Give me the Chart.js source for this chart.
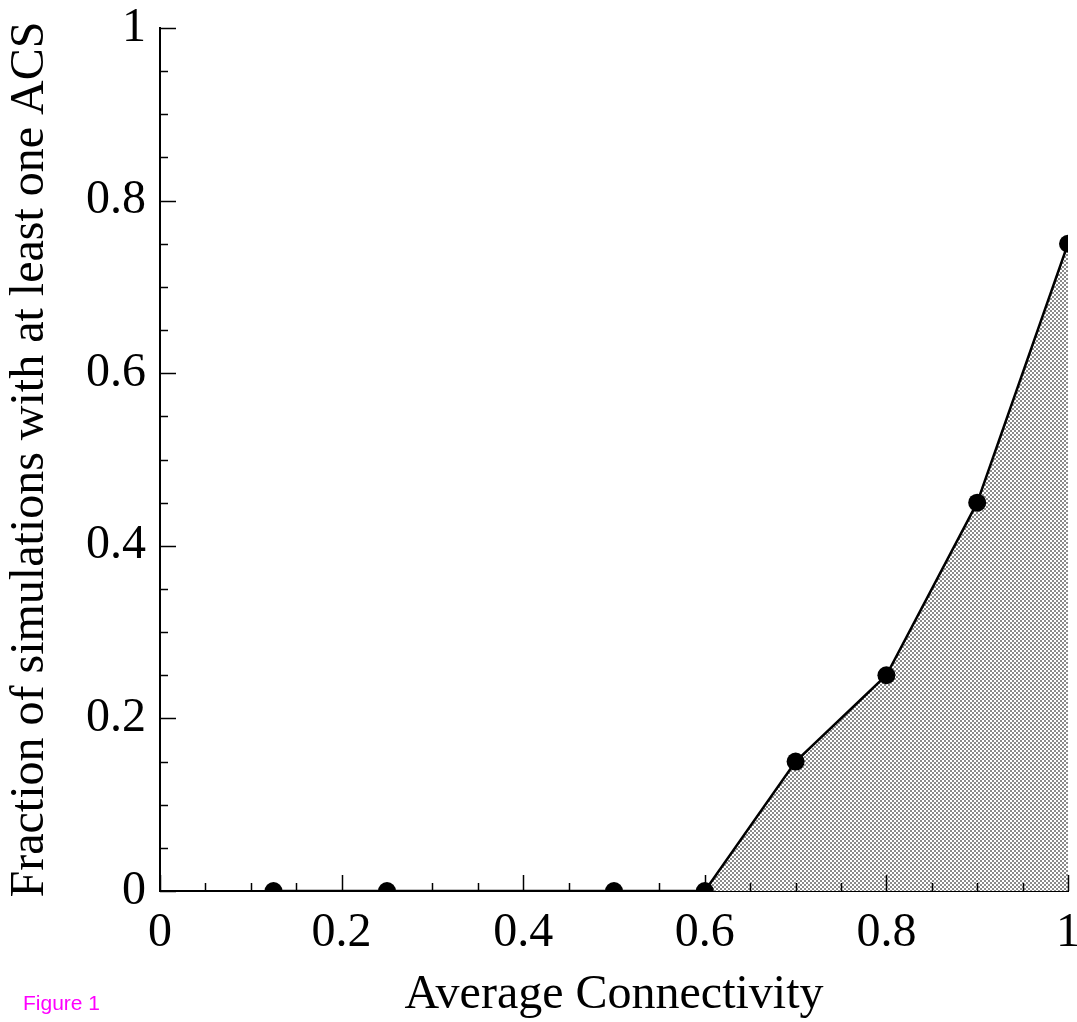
<!DOCTYPE html>
<html>
<head>
<meta charset="utf-8">
<script src="https://cdn.jsdelivr.net/npm/chart.js@4"></script>
<style>
  html, body { margin: 0; padding: 0; background: #fff; overflow: hidden; }
  #wrap { position: relative; width: 1077px; height: 1022px; }
  #fig { position: absolute; left: 23px; top: 992px; font-family: "Liberation Sans", Arial, sans-serif; font-size: 21px; line-height: 21px; color: #ff00ff; }
</style>
</head>
<body>
<div id="wrap">
  <canvas id="c" width="1077" height="1022"></canvas>
  <div id="fig">Figure 1</div>
</div>
<script>
// ---- data ----
const connectivity = [0.125, 0.25, 0.5, 0.6, 0.7, 0.8, 0.9, 1.0];
const fractionACS  = [0, 0, 0, 0, 0.15, 0.25, 0.45, 0.75];
const xTickValues  = [0, 0.2, 0.4, 0.6, 0.8, 1];
const xTickLabels  = ['0', '0.2', '0.4', '0.6', '0.8', '1'];
const yTickValues  = [0, 0.2, 0.4, 0.6, 0.8, 1];
const yTickLabels  = ['0', '0.2', '0.4', '0.6', '0.8', '1'];
const xTitle = 'Average Connectivity';
const yTitle = 'Fraction of simulations with at least one ACS';

const MINOR_STEP = 0.05;
const FONT = '"Liberation Serif", "Times New Roman", Times, serif';

// checkered fill pattern
const pc = document.createElement('canvas');
pc.width = 4; pc.height = 4;
const pctx = pc.getContext('2d');
pctx.fillStyle = '#ffffff'; pctx.fillRect(0, 0, 4, 4);
pctx.fillStyle = '#8a8a8a';
pctx.fillRect(0, 0, 2, 2); pctx.fillRect(2, 2, 2, 2);
const ctx = document.getElementById('c').getContext('2d');
const pattern = ctx.createPattern(pc, 'repeat');

const points = connectivity.map((x, i) => ({ x: x, y: fractionACS[i] }));

const innerTicks = {
  id: 'innerTicks',
  afterDatasetsDraw(chart) {
    const c = chart.ctx;
    const xs = chart.scales.x, ys = chart.scales.y;
    const a = chart.chartArea;
    c.save();
    c.strokeStyle = '#000';
    c.lineWidth = 1.5;
    const n = Math.round(1 / MINOR_STEP);
    for (let i = 0; i <= n; i++) {
      const v = i * MINOR_STEP;
      const major = (i % 4 === 0);
      const len = major ? 16 : 8;
      const px = Math.round(xs.getPixelForValue(v)) + 0.5;
      c.beginPath(); c.moveTo(px, a.bottom); c.lineTo(px, a.bottom - len); c.stroke();
      const py = Math.round(ys.getPixelForValue(v)) + 0.5;
      c.beginPath(); c.moveTo(a.left, py); c.lineTo(a.left + len, py); c.stroke();
    }
    c.restore();
  }
};

new Chart(ctx, {
  type: 'line',
  data: {
    datasets: [{
      data: points,
      borderColor: '#000',
      borderWidth: 2.5,
      backgroundColor: pattern,
      fill: 'origin',
      pointRadius: 9,
      pointHoverRadius: 9,
      pointBackgroundColor: '#000',
      pointBorderColor: '#000',
      pointBorderWidth: 0,
      tension: 0,
      clip: 0
    }]
  },
  options: {
    responsive: false,
    animation: false,
    events: [],
    layout: { padding: { top: 28, right: 9, left: 0, bottom: 0 } },
    plugins: { legend: { display: false }, tooltip: { enabled: false } },
    scales: {
      x: {
        type: 'linear',
        min: 0, max: 1,
        afterBuildTicks(s) { s.ticks = xTickValues.map(v => ({ value: v })); },
        afterFit(s) { s.height = 131; s.paddingLeft = 0; s.paddingRight = 0; },
        grid: { display: true, drawOnChartArea: false, drawTicks: false },
        border: { display: true, color: '#000', width: 2 },
        ticks: {
          color: '#000', padding: 14, maxRotation: 0, autoSkip: false,
          font: { family: FONT, size: 48 },
          callback(v) { const i = xTickValues.findIndex(t => Math.abs(t - v) < 1e-9); return i >= 0 ? xTickLabels[i] : ''; }
        },
        title: { display: true, text: xTitle, color: '#000', font: { family: FONT, size: 48, lineHeight: 1.1 }, padding: { top: 0, bottom: 0 } }
      },
      y: {
        type: 'linear',
        min: 0, max: 1,
        afterBuildTicks(s) { s.ticks = yTickValues.map(v => ({ value: v })); },
        afterFit(s) { s.width = 160; s.paddingTop = 0; s.paddingBottom = 0; },
        grid: { display: true, drawOnChartArea: false, drawTicks: false },
        border: { display: true, color: '#000', width: 2 },
        ticks: {
          color: '#000', padding: 14, autoSkip: false,
          font: { family: FONT, size: 48 },
          callback(v) { const i = yTickValues.findIndex(t => Math.abs(t - v) < 1e-9); return i >= 0 ? yTickLabels[i] : ''; }
        },
        title: { display: true, text: yTitle, color: '#000', font: { family: FONT, size: 48, lineHeight: 1.1 }, padding: { top: 4, bottom: 0 } }
      }
    }
  },
  plugins: [innerTicks]
});
</script>
</body>
</html>
